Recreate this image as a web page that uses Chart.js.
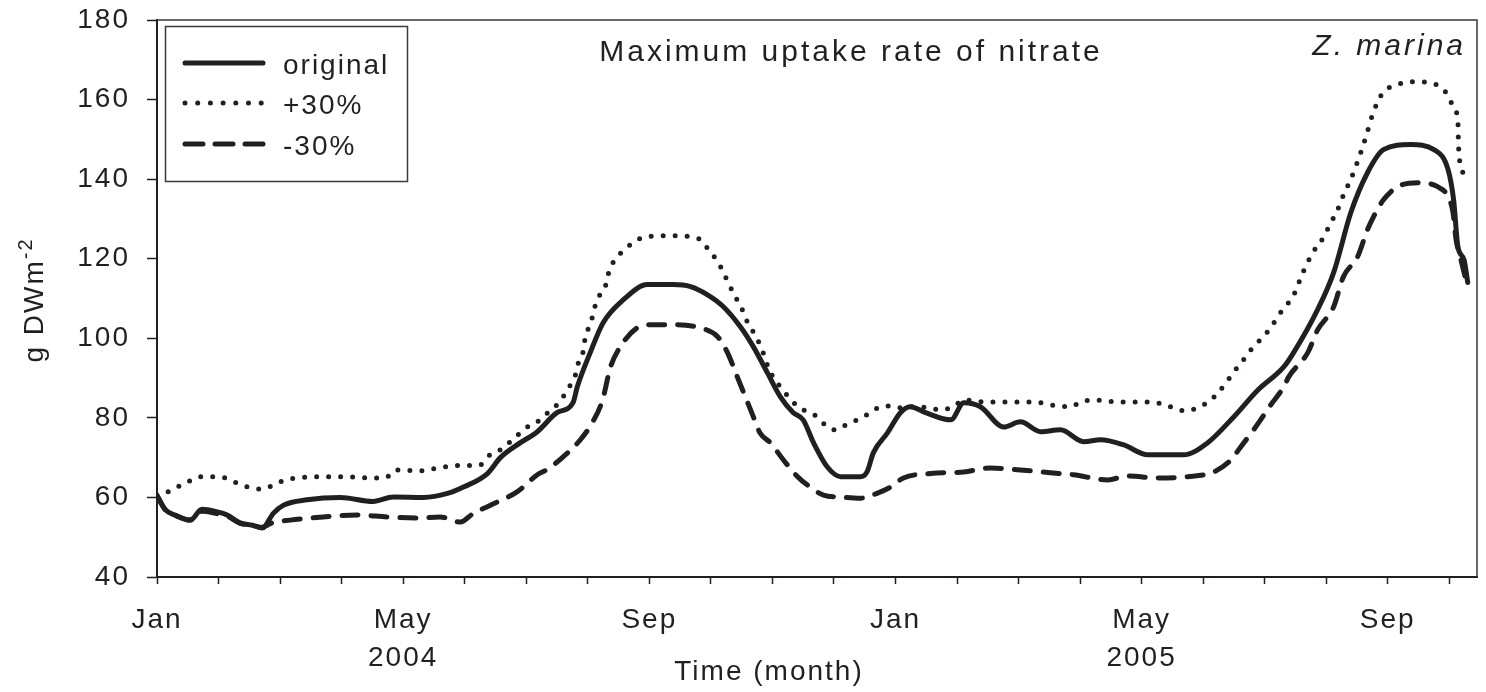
<!DOCTYPE html>
<html>
<head>
<meta charset="utf-8">
<script src="https://cdn.jsdelivr.net/npm/chart.js@4.4.1/dist/chart.umd.min.js"></script>
<style>
  html, body { margin: 0; padding: 0; background: #fff; }
  canvas { display: block; }
</style>
</head>
<body>
<canvas id="nitrateChart" width="1486" height="692"></canvas>
<script>
// months counted from 1 Jan 2004
const originalMonths = [0.00, 0.13, 0.30, 0.54, 0.73, 0.95, 1.14, 1.35, 1.55, 1.71, 1.89, 2.05, 2.44, 2.98, 3.51, 3.84, 4.33, 4.72, 4.98, 5.37, 5.58, 5.90, 6.18, 6.50, 6.76, 6.83, 7.04, 7.25, 7.58, 7.97, 8.39, 8.67, 8.94, 9.20, 9.48, 9.69, 9.92, 10.13, 10.34, 10.50, 10.67, 10.89, 11.11, 11.43, 11.54, 11.64, 11.87, 12.08, 12.24, 12.49, 12.90, 13.11, 13.38, 13.76, 14.03, 14.36, 14.68, 15.06, 15.33, 15.71, 16.10, 16.68, 17.07, 17.50, 17.89, 18.31, 18.47, 18.86, 19.12, 19.40, 19.67, 19.93, 20.37, 20.75, 20.98, 21.07, 21.14, 21.24, 21.30];
const originalValues = [60.5, 57, 55.5, 54.3, 57, 56.5, 55.6, 53.6, 53, 52.3, 56, 58, 59.4, 60, 59, 60.1, 60, 61, 62.6, 66, 70, 73.7, 76.5, 81.3, 83.8, 87.8, 96.4, 103.9, 109.7, 113.5, 113.5, 113, 111, 108, 102.9, 97.9, 91.3, 85.3, 81.3, 79.5, 73.7, 67.7, 65.2, 65.2, 66.5, 71.2, 76.2, 81.3, 82.8, 81.3, 79.5, 83.8, 82.8, 77.7, 79, 76.5, 77, 74, 74.5, 73.2, 70.7, 70.7, 73.7, 80.3, 87, 92.8, 96.4, 107.2, 116.5, 131.6, 141.6, 147.4, 148.7, 147.4, 142.4, 134.8, 123, 119.7, 114];

const plusMonths = [0.00, 0.18, 0.37, 0.54, 0.70, 0.89, 1.11, 1.30, 1.48, 1.71, 1.89, 2.08, 2.28, 2.68, 3.09, 3.51, 3.74, 3.87, 4.28, 4.49, 4.88, 5.25, 5.41, 5.58, 5.74, 6.02, 6.18, 6.31, 6.47, 6.60, 6.72, 6.80, 6.85, 6.93, 6.96, 7.04, 7.15, 7.28, 7.33, 7.41, 7.56, 7.69, 7.93, 8.34, 8.67, 8.83, 8.96, 9.11, 9.20, 9.28, 9.40, 9.51, 9.59, 9.67, 9.76, 9.85, 9.93, 10.02, 10.13, 10.26, 10.42, 10.57, 10.73, 10.86, 11.02, 11.19, 11.38, 11.54, 11.71, 11.89, 12.05, 12.24, 12.57, 12.73, 12.94, 13.11, 13.43, 13.82, 14.24, 14.63, 14.85, 15.01, 15.22, 15.61, 15.98, 16.39, 16.59, 16.76, 16.93, 17.09, 17.24, 17.37, 17.50, 17.64, 17.77, 18.07, 18.29, 18.46, 18.62, 18.78, 18.94, 19.04, 19.19, 19.28, 19.40, 19.59, 19.67, 19.77, 19.92, 20.16, 20.37, 20.70, 20.86, 20.99, 21.07, 21.14, 21.15, 21.22];
const plusValues = [60.3, 61.4, 62.9, 64.2, 65.2, 65.2, 64.9, 63.6, 62.6, 62.1, 63.1, 64.4, 64.9, 65.2, 65.2, 64.9, 65.2, 66.9, 66.7, 67.2, 68, 68.2, 70.7, 72, 74, 77.7, 79, 80.8, 82.8, 85.3, 88.3, 90.8, 94, 97, 100.4, 103.4, 109.7, 112.7, 116, 119, 121.8, 123.5, 125.5, 125.8, 125.5, 124.8, 122.3, 119.3, 116.7, 114, 110.4, 107.2, 104.2, 102.1, 99.6, 96.4, 92.8, 90, 87.8, 85.3, 82.8, 81.5, 80.3, 78.2, 77, 78.2, 79.5, 80.8, 82.5, 83, 82.5, 82.8, 82.5, 82, 82.8, 84.5, 84, 84, 84, 83, 82.8, 84, 84.5, 84, 84, 83.3, 82, 81.8, 82.8, 84, 86.3, 88.8, 91.6, 94.3, 97, 102.1, 107.2, 110.5, 116.5, 121.5, 125, 128, 132.5, 136, 140, 148, 152, 157, 161.7, 163.8, 164.5, 164.2, 163, 160.8, 158, 154.5, 148.2, 141.6];

const minusMonths = [0.00, 0.13, 0.30, 0.54, 0.73, 0.95, 1.14, 1.35, 1.55, 1.71, 1.87, 2.16, 2.70, 3.25, 3.74, 4.23, 4.60, 4.93, 5.14, 5.41, 5.85, 6.18, 6.34, 6.60, 6.88, 7.07, 7.24, 7.37, 7.53, 7.80, 8.02, 8.39, 8.83, 9.11, 9.27, 9.43, 9.56, 9.69, 9.80, 9.97, 10.18, 10.41, 10.57, 10.83, 11.11, 11.43, 11.71, 11.92, 12.13, 12.57, 13.11, 13.54, 14.03, 14.52, 14.89, 15.45, 15.77, 16.26, 16.75, 17.17, 17.45, 17.61, 17.82, 18.10, 18.31, 18.39, 18.70, 18.86, 19.12, 19.28, 19.51, 19.67, 19.77, 19.93, 20.16, 20.49, 20.81, 20.98, 21.06, 21.11, 21.19, 21.27, 21.30];
const minusValues = [60.5, 57, 55.5, 54.3, 56.5, 56, 55.3, 53.5, 53, 52.5, 53.6, 54.3, 55.1, 55.6, 55.1, 54.8, 55.1, 53.8, 56, 58, 61.4, 65.7, 67, 70.2, 74.5, 78.7, 84.5, 92.8, 97.9, 102.6, 103.4, 103.4, 102.6, 100.4, 96.4, 90.3, 85.3, 80.3, 76.2, 73.7, 69.4, 65.2, 63.1, 60.6, 60.1, 59.8, 61.1, 62.6, 64.9, 66, 66.4, 67.4, 66.9, 66.2, 65.7, 64.4, 65.4, 64.9, 65.2, 66.4, 69.4, 72.7, 77, 83.3, 87.8, 90.3, 96.4, 102.1, 107.9, 115.5, 120.5, 127.3, 130.6, 134.8, 138.1, 139.1, 138.1, 135.6, 131.6, 124.8, 119.7, 114.7, 113];

const seriesNames = ['original', '+30%', '-30%'];
const monthLabels = ['Jan', '', '', '', 'May', '', '', '', 'Sep', '', '', '', 'Jan', '', '', '', 'May', '', '', '', 'Sep', ''];
const yearLabels = ['', '', '', '', '2004', '', '', '', '', '', '', '', '', '', '', '', '2005', '', '', '', '', ''];
const yTicks = [40, 60, 80, 100, 120, 140, 160, 180];

const ink = '#231f20';
const fontFamily = '"Liberation Sans", Arial, sans-serif';

function toPoints(months, values) {
    return months.map((m, i) => ({ x: m, y: values[i] }));
}

// letter spacing, frame, texts and the legend drawn on top of the chart
const decorations = {
    id: 'decorations',
    beforeDraw(chart) {
        chart.ctx.letterSpacing = '2px';
    },
    afterDraw(chart) {
        const ctx = chart.ctx;
        const area = chart.chartArea;
        ctx.save();

        // top and right frame
        ctx.strokeStyle = '#3a3a3a';
        ctx.lineWidth = 1.5;
        ctx.beginPath();
        ctx.moveTo(area.left, area.top);
        ctx.lineTo(area.right, area.top);
        ctx.lineTo(area.right, area.bottom);
        ctx.stroke();

        ctx.fillStyle = ink;
        ctx.textBaseline = 'alphabetic';

        // chart title and species
        ctx.letterSpacing = '3px';
        ctx.font = '30px ' + fontFamily;
        ctx.textAlign = 'center';
        ctx.fillText('Maximum uptake rate of nitrate', 851, 61);
        ctx.font = 'italic 30px ' + fontFamily;
        ctx.textAlign = 'right';
        ctx.fillText('Z. marina', 1466, 55);

        // x axis title
        ctx.letterSpacing = '2px';
        ctx.font = '28px ' + fontFamily;
        ctx.textAlign = 'center';
        ctx.fillText('Time (month)', 769, 680);

        // y axis title, rotated
        ctx.save();
        ctx.translate(43, 300);
        ctx.rotate(-Math.PI / 2);
        ctx.font = '28px ' + fontFamily;
        const main = 'g DWm';
        const wMain = ctx.measureText(main).width;
        ctx.font = '20px ' + fontFamily;
        const wSup = ctx.measureText('-2').width;
        const start = -(wMain + wSup) / 2;
        ctx.textAlign = 'left';
        ctx.font = '28px ' + fontFamily;
        ctx.fillText(main, start, 0);
        ctx.font = '20px ' + fontFamily;
        ctx.fillText('-2', start + wMain, -11);
        ctx.restore();

        // legend box
        ctx.strokeStyle = '#3a3a3a';
        ctx.lineWidth = 1.5;
        ctx.strokeRect(165.5, 26.5, 242, 155);
        const rowsY = [63, 103, 144];
        chart.data.datasets.forEach((ds, i) => {
            ctx.save();
            ctx.strokeStyle = ds.borderColor;
            ctx.lineWidth = ds.borderWidth;
            ctx.lineCap = ds.borderCapStyle || 'butt';
            ctx.setLineDash(ds.legendDash || []);
            ctx.beginPath();
            ctx.moveTo(185, rowsY[i]);
            ctx.lineTo(263, rowsY[i]);
            ctx.stroke();
            ctx.restore();
            ctx.font = '28px ' + fontFamily;
            ctx.textAlign = 'left';
            ctx.fillText(ds.label, 283, rowsY[i] + 11);
        });

        ctx.restore();
    }
};

const ctx = document.getElementById('nitrateChart').getContext('2d');
const chart = new Chart(ctx, {
    type: 'line',
    data: {
        datasets: [{
            label: seriesNames[0],
            data: toPoints(originalMonths, originalValues),
            borderColor: ink,
            borderWidth: 5,
            borderCapStyle: 'round',
            borderJoinStyle: 'round',
            legendDash: []
        }, {
            label: seriesNames[1],
            data: toPoints(plusMonths, plusValues),
            borderColor: ink,
            borderWidth: 5,
            borderDash: [0, 12],
            borderCapStyle: 'round',
            borderJoinStyle: 'round',
            legendDash: [0, 12.7]
        }, {
            label: seriesNames[2],
            data: toPoints(minusMonths, minusValues),
            borderColor: ink,
            borderWidth: 5,
            borderDash: [16, 13],
            borderCapStyle: 'round',
            borderJoinStyle: 'round',
            legendDash: [18, 12]
        }]
    },
    options: {
        responsive: false,
        devicePixelRatio: 1,
        animation: false,
        cubicInterpolationMode: 'monotone',
        elements: { point: { radius: 0 } },
        layout: { padding: { top: 20, right: 9, left: 0, bottom: 0 } },
        plugins: {
            legend: { display: false },
            tooltip: { enabled: false }
        },
        scales: {
            x: {
                type: 'linear',
                min: 0,
                max: 21.45,
                afterBuildTicks(scale) {
                    scale.ticks = monthLabels.map((_, i) => ({ value: i }));
                },
                afterFit(scale) {
                    scale.height = 115;
                    scale.paddingLeft = 0;
                    scale.paddingRight = 0;
                },
                border: { display: true, color: ink, width: 2 },
                grid: {
                    drawOnChartArea: false,
                    drawTicks: true,
                    tickLength: 7,
                    tickColor: ink,
                    tickWidth: 1.5
                },
                ticks: {
                    autoSkip: false,
                    maxRotation: 0,
                    color: ink,
                    padding: 18,
                    font: { family: fontFamily, size: 28, lineHeight: 1.34 },
                    callback(value) {
                        const i = Math.round(value);
                        if (yearLabels[i]) return [monthLabels[i], yearLabels[i]];
                        return monthLabels[i] || '';
                    }
                }
            },
            y: {
                min: 40,
                max: 180,
                afterBuildTicks(scale) {
                    scale.ticks = yTicks.map(v => ({ value: v }));
                },
                afterFit(scale) {
                    scale.width = 157;
                    scale.paddingTop = 0;
                    scale.paddingBottom = 0;
                },
                border: { display: true, color: ink, width: 2 },
                grid: {
                    drawOnChartArea: false,
                    drawTicks: true,
                    tickLength: 10,
                    tickColor: ink,
                    tickWidth: 1.5
                },
                ticks: {
                    color: ink,
                    padding: 17,
                    font: { family: fontFamily, size: 28 }
                }
            }
        }
    },
    plugins: [decorations]
});
</script>
</body>
</html>
